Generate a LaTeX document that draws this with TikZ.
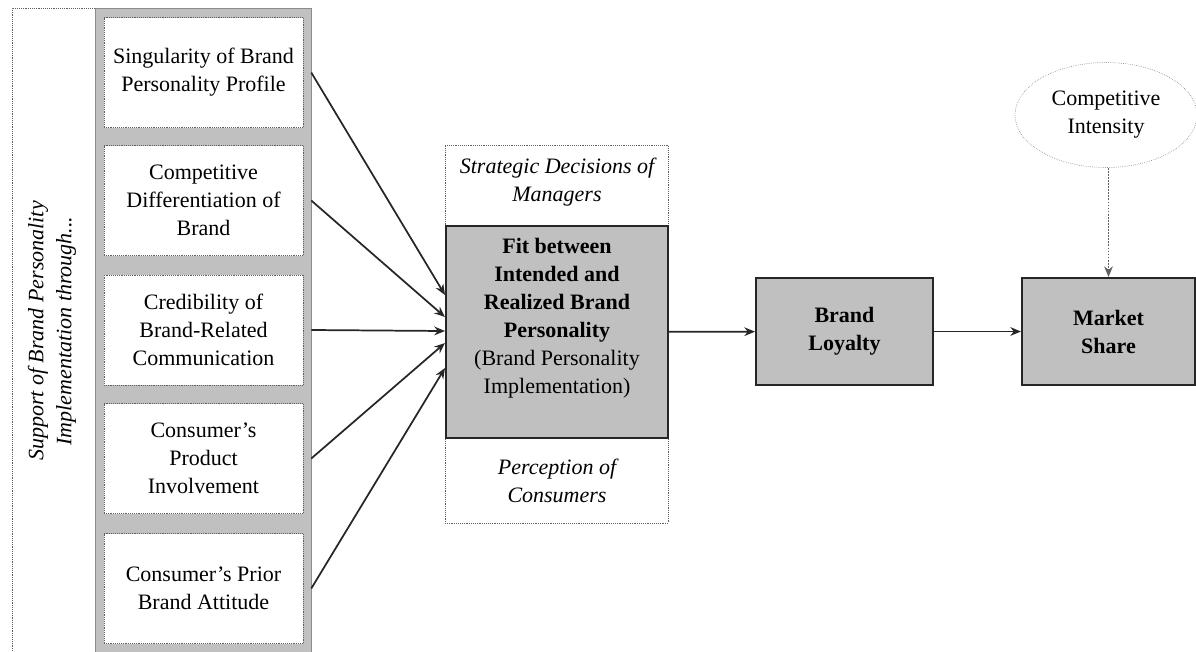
\documentclass[tikz,border=0pt]{standalone}
\usepackage{fontspec}
\setmainfont{Liberation Serif}
\usetikzlibrary{shapes.geometric,arrows.meta,calc}
\definecolor{boxgray}{RGB}{192,192,192}
\definecolor{linegray}{RGB}{95,95,95}
\begin{document}
\begin{tikzpicture}[x=0.75pt, y=-0.75pt,
  every node/.style={font=\fontsize{16.5}{21}\selectfont, align=center, inner sep=0pt},
  factor/.style={rectangle, draw=linegray, densely dotted, fill=white, minimum width=149.25pt, minimum height=82.5pt},
  core/.style={rectangle, draw=black!85, line width=1.5pt, fill=boxgray},
  arr/.style={-{Stealth[length=8pt,width=6.5pt]}, line width=1.3pt, draw=black!85}]
  \useasboundingbox (0,0) rectangle (1196,651);
  % left column of factors
  \node[rectangle, draw=linegray, densely dotted, minimum width=62.25pt, minimum height=484.5pt] (support) at (53.5,331) {};
  \node[rotate=90, font=\fontsize{16.5}{21}\selectfont\itshape] (supporttxt) at (52,331) {Support of Brand Personality\\Implementation through...};
  \node[rectangle, draw=black!45, fill=boxgray, minimum width=162pt, minimum height=484.5pt] (column) at (203,331) {};
  \node[factor] (b1) at (203.5,72.5) {Singularity of Brand\\Personality Profile};
  \node[factor] (b2) at (203.5,200.5) {Competitive\\Differentiation of\\Brand};
  \node[factor] (b3) at (203.5,330) {Credibility of\\Brand-Related\\Communication};
  \node[factor] (b4) at (203.5,458.5) {Consumer's\\Product\\Involvement};
  \node[factor] (b5) at (203.5,588.5) {Consumer's Prior\\Brand Attitude};
  % middle block
  \node[rectangle, draw=linegray, densely dotted, minimum width=167.25pt, minimum height=283.5pt] (frame) at (556.5,334) {};
  \node[font=\fontsize{16.5}{21}\selectfont\itshape] (managers) at (557,182) {Strategic Decisions of\\Managers};
  \node[font=\fontsize{16.5}{21}\selectfont\itshape] (consumers) at (557,481) {Perception of\\Consumers};
  \node[core, minimum width=166.5pt, minimum height=159pt] (fit) at (557,332) {};
  \node (fittxt) at (557,318) {\textbf{Fit between}\\\textbf{Intended and}\\\textbf{Realized Brand}\\\textbf{Personality}\\(Brand Personality\\Implementation)};
  % outcomes
  \node[core, minimum width=132.75pt, minimum height=80.25pt, font=\fontsize{16.5}{21}\selectfont\bfseries] (loyalty) at (844.5,331.5) {Brand\\Loyalty};
  \node[core, minimum width=129.75pt, minimum height=80.25pt, font=\fontsize{16.5}{21}\selectfont\bfseries] (share) at (1108.5,331.5) {Market\\Share};
  \node[ellipse, draw=linegray, densely dotted, minimum width=136.5pt, minimum height=78.75pt] (intensity) at (1106,115) {Competitive\\Intensity};
  \foreach \i/\dy in {1/-37,2/-15,3/-1,4/11,5/36}
    \draw[arr] (column.east |- b\i) -- ($(fit.west)+(0,\dy)$);
  \draw[arr] (fit) -- (loyalty);
  \draw[arr] (loyalty) -- (share);
  \draw[arr, densely dotted, line width=0.9pt, draw=linegray] (intensity.south -| share) -- (share);
\end{tikzpicture}
\end{document}
